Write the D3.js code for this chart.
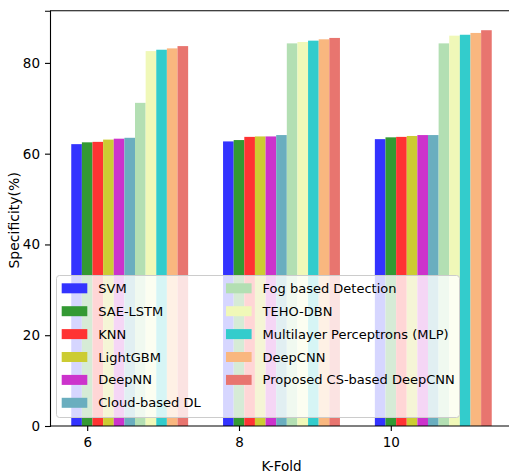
<!DOCTYPE html>
<html>
<head>
<meta charset="utf-8">
<script src="https://cdn.jsdelivr.net/npm/d3@7"></script>
<style>
  body { margin: 0; background: #fff; }
  svg { display: block; font-family: 'DejaVu Sans', sans-serif; }
</style>
</head>
<body>
<svg id="chart"></svg>
<script>
const folds = [6, 8, 10];
const methods = ['SVM', 'SAE-LSTM', 'KNN', 'LightGBM', 'DeepNN', 'Cloud-based DL',
    'Fog based Detection', 'TEHO-DBN', 'Multilayer Perceptrons (MLP)', 'DeepCNN', 'Proposed CS-based DeepCNN'];
const colors = ['#3333ff', '#339933', '#ff3333', '#cccc33', '#cc33cc', '#6aaebf',
    '#b3dfb3', '#f0f8b8', '#33cccc', '#f9b77f', '#e8756f'];
// specificity (%) per method, one value per fold
const svm = [62.1, 62.7, 63.2];
const saeLstm = [62.5, 63.0, 63.6];
const knn = [62.6, 63.7, 63.7];
const lightGbm = [63.1, 63.8, 63.9];
const deepNn = [63.3, 63.8, 64.1];
const cloudDl = [63.5, 64.1, 64.1];
const fogDetection = [71.2, 84.3, 84.3];
const tehoDbn = [82.6, 84.6, 86.0];
const mlp = [82.9, 84.9, 86.2];
const deepCnn = [83.2, 85.2, 86.6];
const proposed = [83.7, 85.5, 87.2];
const series = [svm, saeLstm, knn, lightGbm, deepNn, cloudDl, fogDetection, tehoDbn, mlp, deepCnn, proposed];
const yTicks = [0, 20, 40, 60, 80];

const width = 509;
const height = 473;
const barWidth = 0.14;

const svg = d3.select('#chart')
    .attr('width', width)
    .attr('height', height);

const x = d3.scaleLinear()
    .domain([5.51, 11.61])
    .range([50, 513]);

const y = d3.scaleLinear()
    .domain([0, 91.5])
    .range([426, 10.7]);

const bars = svg.append('g');
series.forEach((vals, i) => {
    bars.selectAll(null)
        .data(vals.map((v, j) => ({ fold: folds[j], value: v })))
        .enter().append('rect')
        .attr('x', d => x(d.fold + (i - 1) * barWidth - barWidth / 2))
        .attr('width', x(barWidth) - x(0))
        .attr('y', d => y(d.value))
        .attr('height', d => y(0) - y(d.value))
        .attr('fill', colors[i]);
});

// top spine (right spine falls outside the picture)
svg.append('line')
    .attr('x1', x.range()[0]).attr('x2', width)
    .attr('y1', y.range()[1]).attr('y2', y.range()[1])
    .attr('stroke', '#000').attr('stroke-width', 1.1);

const xAxis = svg.append('g')
    .attr('transform', `translate(0,${y(0)})`)
    .call(d3.axisBottom(x).tickValues(folds).tickSize(5).tickPadding(6).tickFormat(d3.format('d')));

const yAxis = svg.append('g')
    .attr('transform', `translate(${x.range()[0]},0)`)
    .call(d3.axisLeft(y).tickValues(yTicks).tickSize(5).tickPadding(5));

[xAxis, yAxis].forEach(a => {
    a.select('.domain').attr('stroke', '#000').attr('stroke-width', 1.1);
    a.selectAll('.tick line').attr('stroke', '#000').attr('stroke-width', 1.1);
    a.selectAll('text')
        .style('font-family', "'DejaVu Sans', sans-serif")
        .style('font-size', '13.5px')
        .attr('fill', '#000');
});
xAxis.select('.domain').attr('d', `M${x.range()[0]},0H${width}`);

svg.append('text')
    .attr('transform', `translate(14,${(y.range()[0] + y.range()[1]) / 2 + 2}) rotate(-90)`)
    .attr('text-anchor', 'middle')
    .attr('dy', '0.35em')
    .style('font-size', '14px')
    .text('Specificity(%)');

svg.append('text')
    .attr('x', (x.range()[0] + x.range()[1]) / 2)
    .attr('y', 470.5)
    .attr('text-anchor', 'middle')
    .style('font-size', '13.5px')
    .text('K-Fold');

// legend
const legend = svg.append('g');
legend.append('rect')
    .attr('x', 56.5).attr('y', 275.5)
    .attr('width', 403).attr('height', 142)
    .attr('rx', 3)
    .attr('fill', '#fff').attr('fill-opacity', 0.8)
    .attr('stroke', '#ccc').attr('stroke-width', 1);

const rowStep = 22.9;
methods.forEach((m, i) => {
    const col = i < 6 ? 0 : 1;
    const row = i < 6 ? i : i - 6;
    const hx = col === 0 ? 61.7 : 226;
    const cy = 288.3 + row * rowStep;
    legend.append('rect')
        .attr('x', hx).attr('y', cy - 5)
        .attr('width', 25.6).attr('height', 10)
        .attr('fill', colors[i]);
    legend.append('text')
        .attr('x', hx + 36.6)
        .attr('y', cy)
        .attr('dy', '0.35em')
        .style('font-size', '13px')
        .text(m);
});
</script>
</body>
</html>
